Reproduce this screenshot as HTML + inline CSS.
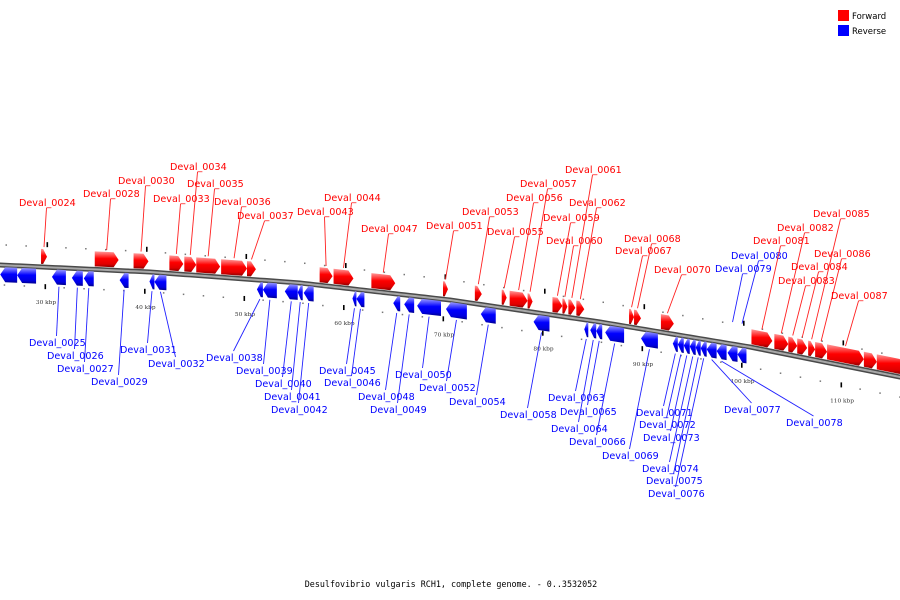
<!DOCTYPE html>
<html><head><meta charset="utf-8">
<style>
html,body{margin:0;padding:0;background:#fff;}
svg{display:block;}
</style></head>
<body>
<svg id="chart" width="900" height="600" viewBox="0 0 900 600" xmlns="http://www.w3.org/2000/svg">
<defs>
<linearGradient id="gf" x1="0" y1="0" x2="0" y2="1">
<stop offset="0" stop-color="#ff9a9a"/><stop offset="0.25" stop-color="#ff4545"/><stop offset="0.45" stop-color="#ff0000"/><stop offset="0.8" stop-color="#e00000"/><stop offset="1" stop-color="#8a0000"/>
</linearGradient>
<linearGradient id="gr" x1="0" y1="0" x2="0" y2="1">
<stop offset="0" stop-color="#9a9aff"/><stop offset="0.25" stop-color="#4545ff"/><stop offset="0.45" stop-color="#0000ff"/><stop offset="0.8" stop-color="#0000e0"/><stop offset="1" stop-color="#00008a"/>
</linearGradient>
</defs>
<g id="legend">
<rect x="838" y="10" width="11" height="11" fill="#ff0000"/>
<text x="852" y="19" font-family="DejaVu Sans, sans-serif" font-size="8.5" fill="#000">Forward</text>
<rect x="838" y="25" width="11" height="11" fill="#0000ff"/>
<text x="852" y="34" font-family="DejaVu Sans, sans-serif" font-size="8.5" fill="#000">Reverse</text>
</g>
<text x="451" y="587" text-anchor="middle" font-family="DejaVu Sans Mono, Liberation Mono, monospace" font-size="8.4" fill="#000">Desulfovibrio vulgaris RCH1, complete genome. - 0..3532052</text>
<g id="ticks"></g>
<g id="backbone"></g>
<g id="genes"></g>
<g id="labels"></g>
</svg>
<script>
// ---- data (kbp) ----
const fwdStart = [29.5,34.9,38.8,42.4,43.9,45.1,47.6,50.2,57.5,58.9,62.7,69.9,73.1,75.8,76.6,78.4,80.9,81.9,82.5,83.3,88.6,89.1,91.8,100.9,103.2,104.6,105.5,106.6,107.3,108.5,112.2,113.5];
const fwdEnd   = [30.1,37.3,40.3,43.8,45.1,47.5,50.2,51.1,58.8,60.9,65.1,70.4,73.8,76.3,78.4,78.9,81.9,82.4,83.2,84.1,89.1,89.8,93.1,103.0,104.6,105.5,106.5,107.3,108.5,112.2,113.5,116.3];
const fwdNames = ["Deval_0024","Deval_0028","Deval_0030","Deval_0033","Deval_0034","Deval_0035","Deval_0036","Deval_0037","Deval_0043","Deval_0044","Deval_0047","Deval_0051","Deval_0053","Deval_0055","Deval_0056","Deval_0057","Deval_0059","Deval_0060","Deval_0061","Deval_0062","Deval_0067","Deval_0068","Deval_0070","Deval_0081","Deval_0082","Deval_0083","Deval_0084","Deval_0085","Deval_0086","Deval_0087","",""];
const revStart = [25.4,27.1,30.6,32.6,33.8,37.4,40.4,40.9,51.2,51.8,54.0,55.3,55.9,60.8,61.2,64.9,66.0,67.3,70.2,73.7,79.0,84.1,84.7,85.3,86.2,89.8,93.0,93.5,94.1,94.7,95.3,95.8,96.4,97.4,98.5,99.5];
const revEnd   = [27.1,29.0,32.0,33.7,34.8,38.3,40.9,42.1,51.8,53.2,55.3,55.8,56.9,61.2,62.0,65.6,67.0,69.7,72.3,75.2,80.6,84.5,85.3,85.9,88.1,91.5,93.5,94.1,94.7,95.3,95.8,96.4,97.4,98.4,99.5,100.4];
const revNames = ["","","Deval_0025","Deval_0026","Deval_0027","Deval_0029","Deval_0031","Deval_0032","Deval_0038","Deval_0039","Deval_0040","Deval_0041","Deval_0042","Deval_0045","Deval_0046","Deval_0048","Deval_0049","Deval_0050","Deval_0052","Deval_0054","Deval_0058","Deval_0063","Deval_0064","Deval_0065","Deval_0066","Deval_0069","Deval_0071","Deval_0072","Deval_0073","Deval_0074","Deval_0075","Deval_0076","Deval_0077","Deval_0078","Deval_0079","Deval_0080"];
const tickKb = [30,40,50,60,70,80,90,100,110];
const tickLabels = ["30 kbp","40 kbp","50 kbp","60 kbp","70 kbp","80 kbp","90 kbp","100 kbp","110 kbp"];
// ---- layout (label text positions: left x, center y) ----
const fwdLabelPos = [[19,202],[83,193],[118,180],[153,198],[170,166],[187,183],[214,201],[237,215],[297,211],[324,197],[361,228],[426,225],[462,211],[487,231],[506,197],[520,183],[543,217],[546,240],[565,169],[569,202],[615,250],[624,238],[654,269],[753,240],[777,227],[778,280],[791,266],[813,213],[814,253],[831,295],null,null];
const revLabelPos = [null,null,[29,342],[47,355],[57,368],[91,381],[120,349],[148,363],[206,357],[236,370],[255,383],[264,396],[271,409],[319,370],[324,382],[358,396],[370,409],[395,374],[419,387],[449,401],[500,414],[548,397],[551,428],[560,411],[569,441],[602,455],[636,412],[639,424],[643,437],[642,468],[646,480],[648,493],[724,409],[786,422],[715,268],[731,255]];

const NS = "http://www.w3.org/2000/svg";
const curve = [[0,265],[150,272],[300,283],[450,300],[600,322],[750,347],[900,377],[950,387]];
function X(kb){ return 46 + (kb-30)*9.95; }
function yAt(x){
  if (x<=curve[0][0]) return curve[0][1] + (x-curve[0][0])*(curve[1][1]-curve[0][1])/(curve[1][0]-curve[0][0]);
  for (let i=0;i<curve.length-1;i++){
    const a=curve[i], b=curve[i+1];
    if (x<=b[0]) return a[1] + (x-a[0])*(b[1]-a[1])/(b[0]-a[0]);
  }
  return curve[curve.length-1][1];
}
function mk(tag, attrs, parent){
  const e=document.createElementNS(NS,tag);
  for (const k in attrs) e.setAttribute(k, attrs[k]);
  parent.appendChild(e); return e;
}
const gTicks=document.getElementById('ticks'), gBack=document.getElementById('backbone'),
      gGenes=document.getElementById('genes'), gLab=document.getElementById('labels');

// backbone
let pts=[]; for(let x=-5;x<=905;x+=5) pts.push(x+','+yAt(x).toFixed(2));
const bb1=mk('polyline',{points:pts.join(' '),fill:'none',stroke:'#4a4a4a','stroke-width':5},gBack);


const bb2=mk('polyline',{points:pts.join(' '),fill:'none',stroke:'#a8a8a8','stroke-width':2},gBack);



// minor dots every 2 kbp
for (let kb=26; kb<=118; kb+=2){
  if (kb%10===0) continue;
  const x=X(kb), y=yAt(x);
  const d1=mk('rect',{x:x-0.7,y:y-21,width:1.5,height:1.5,fill:'#777'},gTicks);
  
  
  const d2=mk('rect',{x:x-2.5,y:y+19,width:1.5,height:1.5,fill:'#777'},gTicks);
  
  
}
// major ticks
tickKb.forEach((kb,i)=>{
  const x=X(kb), y=yAt(x);
  const t1=mk('rect',{x:x+0.5,y:y-25,width:1.6,height:5,fill:'#000'},gTicks);
  
  
  const t2=mk('rect',{x:x-1.5,y:y+17,width:1.6,height:5,fill:'#000'},gTicks);
  
  
  const tl=mk('text',{x:x,y:y+37,'text-anchor':'middle','font-family':'DejaVu Serif, serif','font-size':5.8,fill:'#333'},gTicks);
  tl.textContent=tickLabels[i];
  
  
});

function genePoly(x1,x2,top,bot,fwd){
  const h=Math.min(5,(x2-x1)*0.65), mid=(top+bot)/2;
  let p;
  if (fwd) p=[[x1,top],[x2-h,top],[x2,mid],[x2-h,bot],[x1,bot]];
  else p=[[x2,top],[x1+h,top],[x1,mid],[x1+h,bot],[x2,bot]];
  return p.map(q=>q[0].toFixed(2)+','+(yAt(q[0])+q[1]).toFixed(2)).join(' ');
}

function drawSet(starts,ends,names,pos,fwd){
  starts.forEach((s,i)=>{
    const x1=X(s), x2=X(ends[i]);
    const top=fwd?-18:2, bot=fwd?-3:17;
    const g=mk('polygon',{points:genePoly(x1,x2,top,bot,fwd),fill:fwd?'url(#gf)':'url(#gr)'},gGenes);
    
    
    const lp=pos[i];
    if (!lp || !names[i]) return;
    const col=fwd?'#ff2020':'#2020ff';
    const cx=lp[0]+27.5, cy=lp[1];
    const mx=(x1+x2)/2, my=yAt(mx);
    let lx1, ly1, gx, gy;
    if (cy<my){ lx1=cx; ly1=cy+6; gx=mx; gy=my+(fwd?-20:-22); }
    else { lx1=cx; ly1=cy-6; gx=mx; gy=my+19; }
    const ln=mk('line',{x1:lx1,y1:ly1,x2:gx,y2:gy,stroke:col,'stroke-width':0.9},gLab);
    
    
    const t=mk('text',{x:lp[0],y:lp[1]+4,'font-family':'DejaVu Sans, sans-serif','font-size':9.6,fill:fwd?'#ff0000':'#0000ff'},gLab);
    t.textContent=names[i];
    
    
  });
}
drawSet(revStart,revEnd,revNames,revLabelPos,false);
drawSet(fwdStart,fwdEnd,fwdNames,fwdLabelPos,true);
</script>
</body></html>
